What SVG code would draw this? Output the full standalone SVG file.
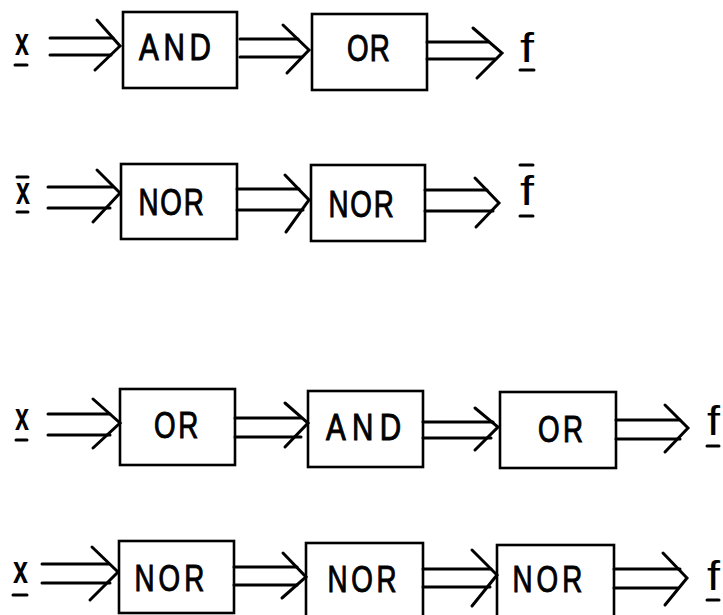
<svg xmlns="http://www.w3.org/2000/svg" width="723" height="615" viewBox="0 0 723 615">
  <style>
    .box { fill: #fff; stroke: #000; stroke-width: 2.6; }
    /* stencil-like gate names: condensed glyphs, open spacing */
    .gate { font-family: "Liberation Sans", Arial, sans-serif; font-size: 37px; fill: #000; stroke: #000; stroke-width: 1; }
    .vx { font-family: "Liberation Sans", Arial, sans-serif; font-size: 38px; font-weight: bold; fill: #000; }
    .vf { font-family: "Liberation Sans", Arial, sans-serif; font-size: 41px; fill: #000; }
    .mark { stroke: #000; stroke-width: 3; stroke-linecap: round; fill: none; }
    .shaft { stroke: #000; stroke-width: 3; stroke-linecap: round; fill: none; }
    .head { stroke: #000; stroke-width: 3; stroke-linecap: round; stroke-linejoin: miter; fill: none; }
  </style>
  <rect width="723" height="615" fill="#fff"/>

  <!-- Row 1: x -> AND -> OR -> f -->
  <g id="r1-in">
    <text class="vx" x="15" y="55" textLength="14" lengthAdjust="spacingAndGlyphs">x</text>
    <line class="mark" x1="15" y1="65" x2="27" y2="65"/>
  </g>
  <g id="r1-and">
    <rect class="box" x="123" y="12" width="114" height="76"/>
    <text class="gate" transform="translate(139,60) scale(0.8,1)" textLength="90">AND</text>
  </g>
  <g id="r1-or">
    <rect class="box" x="312" y="14" width="115" height="76"/>
    <text class="gate" transform="translate(347,61) scale(0.75,1)" textLength="57">OR</text>
  </g>
  <g id="r1-out">
    <text class="vf" x="520" y="62" textLength="14" lengthAdjust="spacingAndGlyphs">f</text>
    <line class="mark" x1="520" y1="70" x2="534" y2="70"/>
  </g>

  <!-- Row 2: x-bar -> NOR -> NOR -> f-bar -->
  <g id="r2-in">
    <line class="mark" x1="17" y1="177" x2="28" y2="177"/>
    <text class="vx" x="16" y="204" textLength="14" lengthAdjust="spacingAndGlyphs">x</text>
    <line class="mark" x1="17" y1="212" x2="28" y2="212"/>
  </g>
  <g id="r2-nor1">
    <rect class="box" x="121" y="164" width="116" height="75"/>
    <text class="gate" transform="translate(138.5,215) scale(0.75,1)" textLength="87">NOR</text>
  </g>
  <g id="r2-nor2">
    <rect class="box" x="311" y="165" width="114" height="76"/>
    <text class="gate" transform="translate(328.5,217) scale(0.75,1)" textLength="87">NOR</text>
  </g>
  <g id="r2-out">
    <line class="mark" x1="520" y1="165" x2="533" y2="165"/>
    <text class="vf" x="520" y="205" textLength="14" lengthAdjust="spacingAndGlyphs">f</text>
    <line class="mark" x1="520" y1="216" x2="533" y2="216"/>
  </g>

  <!-- Row 3: x -> OR -> AND -> OR -> f -->
  <g id="r3-in">
    <text class="vx" x="15" y="430" textLength="14" lengthAdjust="spacingAndGlyphs">x</text>
    <line class="mark" x1="16" y1="440" x2="27" y2="440"/>
  </g>
  <g id="r3-or1">
    <rect class="box" x="120" y="389" width="115" height="76"/>
    <text class="gate" transform="translate(154,438) scale(0.75,1)" textLength="59">OR</text>
  </g>
  <g id="r3-and">
    <rect class="box" x="308" y="391" width="115" height="76"/>
    <text class="gate" transform="translate(326,440) scale(0.8,1)" textLength="94">AND</text>
  </g>
  <g id="r3-or2">
    <rect class="box" x="500" y="392" width="116" height="76"/>
    <text class="gate" transform="translate(538,442) scale(0.75,1)" textLength="60">OR</text>
  </g>
  <g id="r3-out">
    <text class="vf" x="707" y="435" textLength="13" lengthAdjust="spacingAndGlyphs">f</text>
    <line class="mark" x1="707" y1="446" x2="719" y2="446"/>
  </g>

  <!-- Row 4: x -> NOR -> NOR -> NOR -> f -->
  <g id="r4-in">
    <text class="vx" x="13" y="583" textLength="15" lengthAdjust="spacingAndGlyphs">x</text>
    <line class="mark" x1="13" y1="595" x2="27" y2="595"/>
  </g>
  <g id="r4-nor1">
    <rect class="box" x="119" y="541" width="115" height="72"/>
    <text class="gate" transform="translate(134.5,591) scale(0.75,1)" textLength="93">NOR</text>
  </g>
  <g id="r4-nor2">
    <rect class="box" x="306" y="543" width="117" height="80"/>
    <text class="gate" transform="translate(327.5,592) scale(0.75,1)" textLength="92">NOR</text>
  </g>
  <g id="r4-nor3">
    <rect class="box" x="497" y="545" width="117" height="80"/>
    <text class="gate" transform="translate(512.5,592) scale(0.75,1)" textLength="93">NOR</text>
  </g>
  <g id="r4-out">
    <text class="vf" x="707" y="590" textLength="13" lengthAdjust="spacingAndGlyphs">f</text>
    <line class="mark" x1="707" y1="600" x2="719" y2="600"/>
  </g>

  <!-- Double-line bus arrows with open chevron heads -->
  <g id="connectors">
    <!-- row 1 -->
    <path class="shaft" d="M50 38H113M50 55H111"/>
    <path class="head" d="M97 20L120 46L95 70"/>
    <path class="shaft" d="M240 39H298M240 57H302"/>
    <path class="head" d="M283 25L309 50L287 73"/>
    <path class="shaft" d="M427 42H488M427 59H495"/>
    <path class="head" d="M473 28L502 53L477 78"/>

    <!-- row 2 -->
    <path class="shaft" d="M48 187H113M48 208H110"/>
    <path class="head" d="M97 170L120 193L93 222"/>
    <path class="shaft" d="M237 189H299M237 210H303"/>
    <path class="head" d="M285 175L309 200L286 232"/>
    <path class="shaft" d="M425 190H487M425 211H493"/>
    <path class="head" d="M475 178L499 203L476 227"/>

    <!-- row 3 -->
    <path class="shaft" d="M48 414H110M48 435H110"/>
    <path class="head" d="M93 399L120 423L93 448"/>
    <path class="shaft" d="M235 418H301M235 437H301"/>
    <path class="head" d="M285 403L308 423L285 447"/>
    <path class="shaft" d="M423 422H493M423 438H491"/>
    <path class="head" d="M475 408L498 427L475 450"/>
    <path class="shaft" d="M616 420H680M616 439H680"/>
    <path class="head" d="M665 405L688 428L665 452"/>

    <!-- row 4 -->
    <path class="shaft" d="M42 564H109M42 583H110"/>
    <path class="head" d="M92 547L118 572L90 600"/>
    <path class="shaft" d="M234 567H297M234 585H297"/>
    <path class="head" d="M283 553L306 577L282 598"/>
    <path class="shaft" d="M423 569H491M423 587H490"/>
    <path class="head" d="M472 550L497 575L472 606"/>
    <path class="shaft" d="M614 569H680M614 588H678"/>
    <path class="head" d="M663 553L687 578L665 605"/>
  </g>
</svg>
